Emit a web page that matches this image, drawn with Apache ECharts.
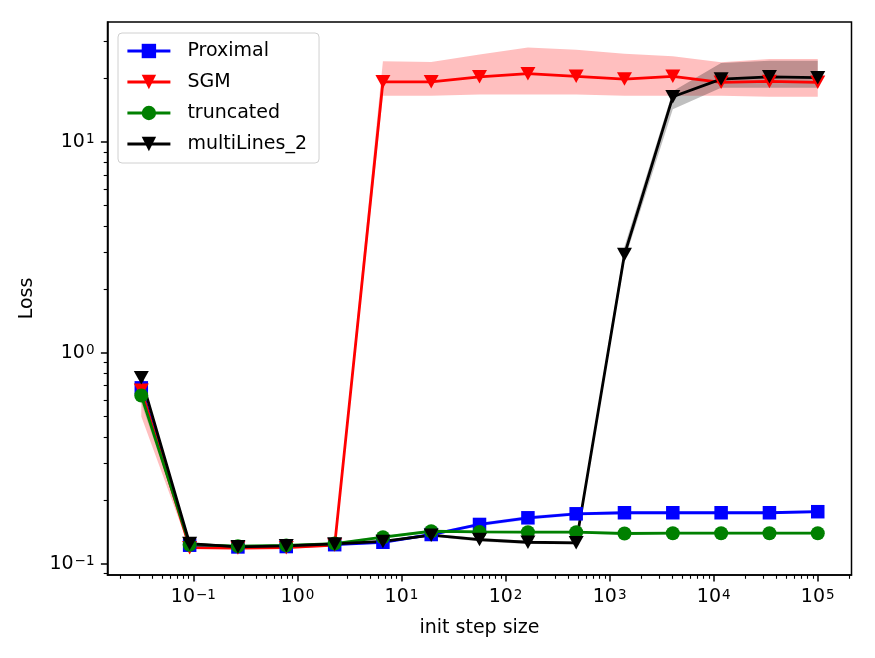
<!DOCTYPE html>
<html>
<head>
<meta charset="utf-8">
<script src="https://cdn.jsdelivr.net/npm/echarts@6/dist/echarts.min.js"></script>
<style>
html,body{margin:0;padding:0;background:#fff;}
#chart{width:875px;height:658px;}
</style>
</head>
<body>
<div id="chart"></div>
<script>
// ---- data ----
const stepSizes = [0.0316, 0.0921, 0.268, 0.781, 2.28, 6.63, 19.3, 56.2, 164, 477, 1389, 4047, 11788, 34340, 100000];

const proximal   = [0.684, 0.1228, 0.1205, 0.1210, 0.1235, 0.1268, 0.138, 0.154, 0.1656, 0.173, 0.175, 0.175, 0.175, 0.175, 0.177];
const sgm        = [0.666, 0.1195, 0.1190, 0.1195, 0.1230, 19.3, 19.3, 20.4, 21.1, 20.5, 19.9, 20.5, 19.2, 19.4, 19.2];
const truncated  = [0.629, 0.1235, 0.1215, 0.1225, 0.1250, 0.134, 0.143, 0.142, 0.1415, 0.1415, 0.1395, 0.140, 0.140, 0.140, 0.140];
const multiLines = [0.763, 0.1250, 0.1207, 0.1220, 0.1245, 0.128, 0.137, 0.1306, 0.1268, 0.126, 2.93, 16.4, 19.9, 20.4, 20.2];

const proximalLow  = [0.66, 0.121, 0.119, 0.1195, 0.122, 0.125, 0.136, 0.151, 0.162, 0.170, 0.172, 0.172, 0.172, 0.172, 0.174];
const proximalHigh = [0.71, 0.1245, 0.122, 0.1225, 0.125, 0.1285, 0.140, 0.157, 0.169, 0.176, 0.178, 0.178, 0.178, 0.178, 0.180];
const sgmLow       = [0.50, 0.118, 0.1175, 0.118, 0.121, 16.6, 16.6, 16.8, 16.8, 16.8, 16.6, 16.6, 16.6, 16.4, 16.4];
const sgmHigh      = [0.72, 0.121, 0.1205, 0.121, 0.125, 24.2, 24.0, 26.0, 28.1, 27.4, 26.2, 25.5, 23.9, 24.8, 24.8];
const truncLow     = [0.58, 0.122, 0.120, 0.121, 0.1235, 0.132, 0.141, 0.140, 0.1395, 0.1395, 0.1375, 0.138, 0.138, 0.138, 0.138];
const truncHigh    = [0.66, 0.125, 0.123, 0.124, 0.1265, 0.136, 0.145, 0.144, 0.1435, 0.1435, 0.1415, 0.142, 0.142, 0.142, 0.142];
const multiLow     = [0.74, 0.1235, 0.1195, 0.1205, 0.123, 0.126, 0.135, 0.128, 0.1245, 0.124, 2.75, 14.3, 18.1, 18.1, 18.1];
const multiHigh    = [0.79, 0.1265, 0.122, 0.1235, 0.126, 0.130, 0.139, 0.133, 0.129, 0.128, 3.2, 17.4, 23.7, 24.3, 24.3];

const xMajorExp = [-1, 0, 1, 2, 3, 4, 5];
const yMajorExp = [-1, 0, 1];
const xRange = [0.01496, 211000];   // axis limits (values)
const yRange = [0.0887, 37.1];

// ---- helpers ----
const L = Math.log10;
const lx = stepSizes.map(L);
const xMin = L(xRange[0]), xMax = L(xRange[1]);
const yMin = L(yRange[0]), yMax = L(yRange[1]);

function minorTicks(lo, hi) {
  const out = [];
  for (let n = Math.floor(lo) - 1; n <= Math.ceil(hi); n++) {
    for (let k = 2; k <= 9; k++) {
      const v = n + L(k);
      if (v >= lo && v <= hi) out.push(v);
    }
  }
  return out;
}
const FONT = 'DejaVu Sans';
function supLabel(v) {
  const e = Math.round(v);
  return '10{s|' + (e < 0 ? '\u2212' + (-e) : e) + '}';
}
const richSup = { s: { fontSize: 13.5, fontFamily: FONT, color: '#000', verticalAlign: 'top', padding: [0, 0, 0, 1], lineHeight: 14 } };

function pairs(vals) { return vals.map((v, i) => [lx[i], L(v)]); }

// shaded band: one polygon through the library's coordinate system
function band(id, lo, hi, color) {
  const data = lo.map((v, i) => [lx[i], L(v), L(hi[i])]);
  return {
    type: 'custom', name: id, silent: true, z: 1, animation: false,
    data: data,
    encode: { x: 0, y: [1, 2] },
    renderItem: function (params, api) {
      if (params.dataIndex !== 0) return null;
      const top = [], bot = [];
      for (let i = 0; i < data.length; i++) {
        top.push(api.coord([data[i][0], data[i][2]]));
        bot.push(api.coord([data[i][0], data[i][1]]));
      }
      const pts = top.concat(bot.reverse());
      return {
        type: 'polygon',
        shape: { points: pts },
        style: { fill: color, stroke: null },
        clipPath: { type: 'rect', shape: { x: params.coordSys.x, y: params.coordSys.y, width: params.coordSys.width, height: params.coordSys.height } }
      };
    }
  };
}

function mainLine(name, vals, color, symbol, size, rotate) {
  return { type: 'line', name: name, data: pairs(vals), symbol: symbol, symbolSize: size,
    symbolRotate: rotate || 0, showAllSymbol: true,
    lineStyle: { color: color, width: 2.8 }, itemStyle: { color: color, borderWidth: 0 },
    z: 3, animation: false };
}

const chart = echarts.init(document.getElementById('chart'), null, { renderer: 'canvas' });

const option = {
  backgroundColor: '#fff',
  animation: false,
  grid: { left: 107.5, top: 22, width: 744, height: 553, show: true, borderColor: '#000', borderWidth: 1.5, backgroundColor: '#fff' },
  legend: {
    data: ['Proximal', 'SGM', 'truncated', 'multiLines_2'],
    orient: 'vertical', left: 118, top: 33,
    backgroundColor: 'rgba(255,255,255,0.8)', borderColor: '#d0d0d0', borderWidth: 1, borderRadius: 4,
    padding: [8, 12, 9, 8], itemGap: 11, itemWidth: 43, itemHeight: 18,
    lineStyle: { width: 2.8 },
    textStyle: { fontFamily: FONT, fontSize: 19, color: '#000', lineHeight: 20, padding: [0, 0, 0, 12] }
  },
  xAxis: [
    { type: 'value', gridIndex: 0, min: xMin, max: xMax, position: 'bottom',
      name: 'init step size', nameLocation: 'middle', nameGap: 44,
      nameTextStyle: { fontFamily: FONT, fontSize: 19, color: '#000' },
      axisLine: { show: true, onZero: false, lineStyle: { color: '#000', width: 1.5 } },
      axisTick: { show: true, inside: false, length: 6.6, customValues: xMajorExp, lineStyle: { color: '#000', width: 1.5 } },
      axisLabel: { show: true, customValues: xMajorExp, margin: 13, formatter: supLabel,
        fontFamily: FONT, fontSize: 19, color: '#000', rich: richSup },
      splitLine: { show: false } },
    { type: 'value', gridIndex: 0, min: xMin, max: xMax, position: 'bottom',
      axisLine: { show: false, onZero: false },
      axisTick: { show: true, inside: false, length: 3.8, customValues: minorTicks(xMin, xMax), lineStyle: { color: '#000', width: 1.1 } },
      axisLabel: { show: false }, splitLine: { show: false } }
  ],
  yAxis: [
    { type: 'value', gridIndex: 0, min: yMin, max: yMax, position: 'left',
      name: 'Loss', nameLocation: 'middle', nameGap: 71,
      nameTextStyle: { fontFamily: FONT, fontSize: 19, color: '#000' },
      axisLine: { show: true, onZero: false, lineStyle: { color: '#000', width: 1.5 } },
      axisTick: { show: true, inside: false, length: 6.6, customValues: yMajorExp, lineStyle: { color: '#000', width: 1.5 } },
      axisLabel: { show: true, customValues: yMajorExp, margin: 13, formatter: supLabel,
        fontFamily: FONT, fontSize: 19, color: '#000', rich: richSup },
      splitLine: { show: false } },
    { type: 'value', gridIndex: 0, min: yMin, max: yMax, position: 'left',
      axisLine: { show: false, onZero: false },
      axisTick: { show: true, inside: false, length: 3.8, customValues: minorTicks(yMin, yMax), lineStyle: { color: '#000', width: 1.1 } },
      axisLabel: { show: false }, splitLine: { show: false } }
  ],
  series: [
    band('bP', proximalLow, proximalHigh, 'rgba(0,0,255,0.2)'),
    band('bS', sgmLow, sgmHigh, 'rgba(255,0,0,0.25)'),
    band('bT', truncLow, truncHigh, 'rgba(0,128,0,0.2)'),
    band('bM', multiLow, multiHigh, 'rgba(0,0,0,0.25)'),
    mainLine('Proximal', proximal, '#0000ff', 'rect', 13.5),
    mainLine('SGM', sgm, '#ff0000', 'triangle', [15, 13.5], 180),
    mainLine('truncated', truncated, '#008000', 'circle', 14),
    mainLine('multiLines_2', multiLines, '#000000', 'triangle', [15, 13.5], 180)
  ]
};
chart.setOption(option);
</script>
</body>
</html>
